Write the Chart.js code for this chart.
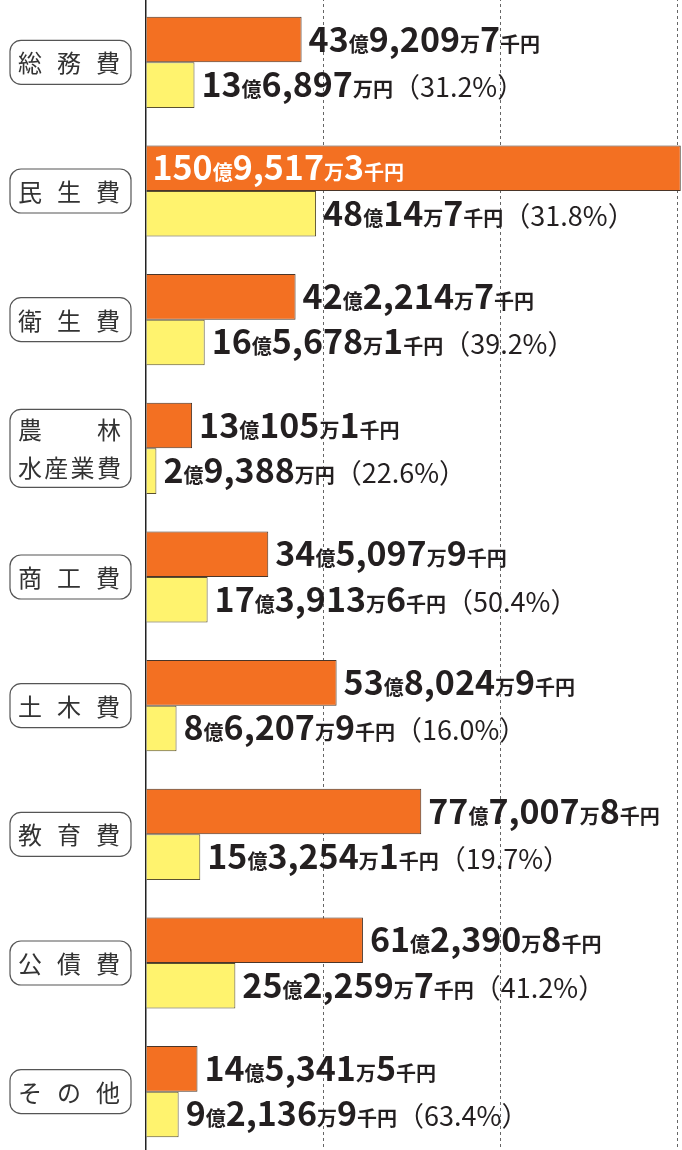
<!DOCTYPE html>
<html lang="ja">
<head>
<meta charset="utf-8">
<script src="https://cdn.jsdelivr.net/npm/chart.js@4.4.1/dist/chart.umd.min.js"></script>
<style>
html, body { margin: 0; padding: 0; background: #fff; overflow: hidden; }
#wrap { position: absolute; left: 0; top: -2px; width: 682px; height: 1158px; }
</style>
</head>
<body>
<div id="wrap"><canvas id="graficoGastos"></canvas></div>
<script>
// valores em 千円
const categorias = ['総務費', '民生費', '衛生費', '農林水産業費', '商工費', '土木費', '教育費', '公債費', 'その他'];
const totais = [4392097, 15095173, 4222147, 1301051, 3450979, 5380249, 7770078, 6123908, 1453415];
const partes = [1368970, 4800147, 1656781, 293880, 1739136, 862079, 1532541, 2522597, 921369];
const porcentagens = [31.2, 31.8, 39.2, 22.6, 50.4, 16.0, 19.7, 41.2, 63.4];
const ticksX = [0, 50, 100, 150];

const fonteNum = 'bold 34px "Noto Sans CJK JP"';
const fonteUni = 'bold 20px "Noto Sans CJK JP"';
const fontePct = '27px "Noto Sans CJK JP"';

function emOku(v) {
    return v / 100000;
}

function geraTexto(v) {
    let oku = Math.floor(v / 100000);
    let man = Math.floor((v % 100000) / 10);
    let sen = v % 10;
    let segs = [[String(oku), fonteNum], ['億', fonteUni]];
    if (man > 0) {
        segs.push([man.toLocaleString('en-US'), fonteNum]);
        segs.push(['万', fonteUni]);
    }
    if (sen > 0) {
        segs.push([String(sen), fonteNum]);
        segs.push(['千円', fonteUni]);
    } else {
        segs.push(['円', fonteUni]);
    }
    return segs;
}

const rotulos = {
    id: 'rotulos',
    afterDatasetsDraw(chart) {
        const ctx = chart.ctx;
        const area = chart.chartArea;
        ctx.save();
        ctx.textBaseline = 'alphabetic';
        ctx.textAlign = 'left';
        chart.data.datasets.forEach((ds, i) => {
            chart.getDatasetMeta(i).data.forEach((bar, j) => {
                let segs = geraTexto(i == 0 ? totais[j] : partes[j]);
                if (i == 1) segs.push(['（' + porcentagens[j].toFixed(1) + '%）', fontePct]);
                let largura = 0;
                segs.forEach(s => { ctx.font = s[1]; largura += ctx.measureText(s[0]).width; });
                let x = bar.x + 7;
                let cor = '#231f20';
                if (x + largura > area.right) {
                    x = bar.base + 6;
                    cor = '#ffffff';
                }
                let y = bar.y + 12;
                ctx.fillStyle = cor;
                segs.forEach(s => {
                    ctx.font = s[1];
                    ctx.fillText(s[0], x, y);
                    x += ctx.measureText(s[0]).width;
                });
            });
        });
        ctx.restore();
    }
};

function caixa(ctx, x, y, w, h, r) {
    ctx.beginPath();
    ctx.moveTo(x + r, y);
    ctx.arcTo(x + w, y, x + w, y + h, r);
    ctx.arcTo(x + w, y + h, x, y + h, r);
    ctx.arcTo(x, y + h, x, y, r);
    ctx.arcTo(x, y, x + w, y, r);
    ctx.closePath();
    ctx.stroke();
}

const nomes = {
    id: 'nomes',
    afterDraw(chart) {
        const ctx = chart.ctx;
        const escala = chart.scales.y;
        ctx.save();
        ctx.strokeStyle = '#555';
        ctx.lineWidth = 1.2;
        ctx.fillStyle = '#333';
        ctx.font = '24px "Noto Sans CJK JP"';
        ctx.textAlign = 'center';
        ctx.textBaseline = 'middle';
        categorias.forEach((nome, j) => {
            let cy = escala.getPixelForValue(j);
            if (nome.length > 3) {
                caixa(ctx, 10, cy - 39, 121, 78, 11);
                ctx.fillText(nome[0], 30, cy - 18);
                ctx.fillText(nome[1], 109, cy - 18);
                for (let k = 0; k < 4; k++) {
                    ctx.fillText(nome[2 + k], 30 + k * 26.3, cy + 20);
                }
            } else {
                caixa(ctx, 10, cy - 22, 121, 44, 11);
                for (let k = 0; k < 3; k++) {
                    ctx.fillText(nome[k], 30 + k * 39, cy + 1);
                }
            }
        });
        ctx.restore();
    }
};

const graficoGastos = new Chart(document.getElementById('graficoGastos'), {
    type: 'bar',
    data: {
        labels: categorias,
        datasets: [{
            label: '総額',
            data: totais.map(emOku),
            backgroundColor: '#f37022',
            borderColor: '#4a3528',
            borderWidth: 1
        }, {
            label: '内訳',
            data: partes.map(emOku),
            backgroundColor: '#fff36e',
            borderColor: '#5a5030',
            borderWidth: 1
        }]
    },
    options: {
        indexAxis: 'y',
        responsive: true,
        maintainAspectRatio: false,
        animation: false,
        layout: { padding: 0 },
        datasets: {
            bar: { categoryPercentage: 0.708, barPercentage: 1 }
        },
        plugins: {
            legend: { display: false },
            tooltip: { enabled: false }
        },
        scales: {
            x: {
                min: 0,
                max: 151.3,
                afterBuildTicks: (scale) => { scale.ticks = ticksX.map(v => ({ value: v })); },
                ticks: { display: false },
                grid: {
                    drawTicks: false,
                    color: (c) => c.tick && c.tick.value == 0 ? 'rgba(0,0,0,0)' : '#666',
                    lineWidth: 1
                },
                border: { display: false, dash: [3, 3] }
            },
            y: {
                afterFit: (scale) => { scale.width = 146; },
                ticks: { display: false },
                grid: { display: false },
                border: { display: true, color: '#222', width: 1.5 }
            }
        }
    },
    plugins: [rotulos, nomes]
});
</script>
</body>
</html>
